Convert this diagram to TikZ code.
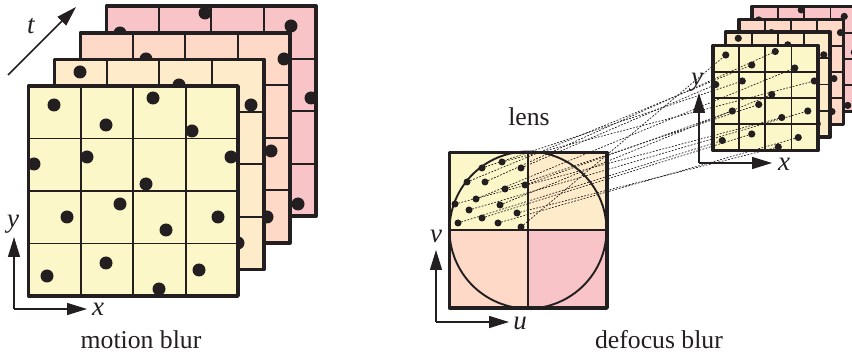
\documentclass[tikz,border=0pt]{standalone}
\usepackage{fontspec}
\setmainfont{Liberation Serif}
\usetikzlibrary{arrows.meta}
\definecolor{ink}{HTML}{231F20}
\definecolor{lyel}{HTML}{FBF7C9}
\definecolor{lora}{HTML}{FDEBC9}
\definecolor{lpea}{HTML}{FFD9C8}
\definecolor{lpin}{HTML}{F9C4C7}
\tikzset{
  frameline/.style={draw=ink,line width=3.6pt,line join=round},
  gridline/.style={draw=ink,line width=1.8pt},
  axisline/.style={draw=ink,line width=1.5pt,-{Stealth[length=20pt,width=12pt,inset=0pt]}},
  raydash/.style={draw=ink,line width=0.7pt,dash pattern=on 1.8pt off 1.5pt},
  labeltext/.style={text=ink,inner sep=0pt,font=\fontsize{25.7}{30}\selectfont},
  axistext/.style={text=ink,inner sep=0pt,font=\fontsize{27}{30}\selectfont\itshape},
}
% #1 x, #2 y, #3 scale, #4 fill, #5 dot radius, #6 dots (a macro holding the list)
\newcommand{\samplelayer}[6]{%
  \begin{scope}[shift={(#1,#2)}]
    \fill[#4] (0,0) rectangle (#3*209.5,#3*210);
    \foreach \k in {1,2,3}{
      \draw[gridline] (#3*\k*52.375,0) -- (#3*\k*52.375,#3*210);
      \draw[gridline] (0,#3*\k*52.5) -- (#3*209.5,#3*\k*52.5);
    }
    \draw[frameline] (0,0) rectangle (#3*209.5,#3*210);
    \foreach \u/\v in #6 { \fill[ink] (#3*\u,#3*\v) circle (#5pt); }
  \end{scope}}
\newcommand{\dotsA}{25.5/19,77.5/39,124.5/12,163.5/45,5.5/78,58.5/71,202.5/71,117.5/98,38.5/131,91.5/118,137.5/144,189.5/131,77.5/177,18.5/190,170.5/184,130.5/203}
\newcommand{\dotsB}{25.5/12.6,124.5/25.6,196.5/45.6,183.5/183.6}
\newcommand{\dotsC}{65.5/26.2,203.5/26.2,190.5/118.2,186.5/184.2}
\newcommand{\dotsD}{98.5/6.8,184.5/19.8,13.5/26.8,204.5/91.8,191.5/197.8}
\begin{document}
\begin{tikzpicture}[x=1pt,y=-1pt]
\useasboundingbox (0,0) rectangle (852,355);
\clip (0,0) rectangle (852,355);
% motion blur stack
\samplelayer{106.5}{6.2}{1}{lpin}{6.5}{\dotsD}
\samplelayer{80.5}{32.8}{1}{lpea}{6.5}{\dotsC}
\samplelayer{54.5}{59.4}{1}{lora}{6.5}{\dotsB}
\samplelayer{28.5}{86}{1}{lyel}{6.5}{\dotsA}
% axes left
\coordinate (ts) at (8,75); \coordinate (te) at (76,7);
\draw[axisline] (ts) -- (te);
\node[axistext] (tlab) at (31,26) {t};
\coordinate (lc) at (14,309); \coordinate (ly) at (14,237); \coordinate (lx) at (87,309);
\draw[axisline] (lc) -- (ly);
\draw[axisline] (lc) -- (lx);
\node[axistext] (ylab) at (13,224) {y};
\node[axistext] (xlab) at (98,309) {x};
\node[labeltext] (cap1) at (141,340) {motion blur};
% small stack
\samplelayer{752}{6.5}{0.5}{lpin}{3.6}{\dotsD}
\samplelayer{738.7}{19.5}{0.5}{lpea}{3.6}{\dotsC}
\samplelayer{725.5}{32}{0.5}{lora}{3.6}{\dotsB}
\samplelayer{713}{45.5}{0.5}{lyel}{3.6}{\dotsA}
\foreach \u/\v [count=\i] in \dotsA { \coordinate (p\i) at (713+0.5*\u,45.5+0.5*\v); }
% lens
\fill[lyel] (449.5,152.5) rectangle (528,230);
\fill[lora] (528,152.5) rectangle (607,230);
\fill[lpea] (449.5,230) rectangle (528,308);
\fill[lpin] (528,230) rectangle (607,308);
\draw[gridline] (528,152) -- (528,308);
\draw[gridline] (449.5,230) -- (607,230);
\draw[draw=ink,line width=1.9pt] (528,230) circle (78.5);
\draw[frameline] (449.5,152.5) rectangle (607,308);
\foreach \u/\v [count=\i] in {502/162,482/168,521/168,467/182,485/182,525/185,505/189,476/199,455/204,500/205,469/210,517/213,482/218,458/223,498/223,521/227}{
  \coordinate (l\i) at (\u,\v);
  \fill[ink] (l\i) circle (3.5pt);
}
\foreach \a/\b in {16/1,12/16,14/14,15/15,13/13,11/12,9/11,4/2,1/7,6/9,7/10,10/8,5/3,2/6,3/5,8/4}{
  \draw[raydash] (l\a) -- (p\b);
}
\node[labeltext] (lenslab) at (529,117) {lens};
\coordinate (mc) at (436,322); \coordinate (my) at (436,250); \coordinate (mx) at (509,322);
\draw[axisline] (mc) -- (my);
\draw[axisline] (mc) -- (mx);
\node[axistext] (vlab) at (436,236) {v};
\node[axistext] (ulab) at (520,323) {u};
\node[labeltext] (cap2) at (659,340) {defocus blur};
\coordinate (rc) at (699,163); \coordinate (ry) at (699,93); \coordinate (rx) at (772,163);
\draw[axisline] (rc) -- (ry);
\draw[axisline] (rc) -- (rx);
\node[axistext] (yrlab) at (697,82) {y};
\node[axistext] (xrlab) at (784,164) {x};
\end{tikzpicture}
\end{document}
